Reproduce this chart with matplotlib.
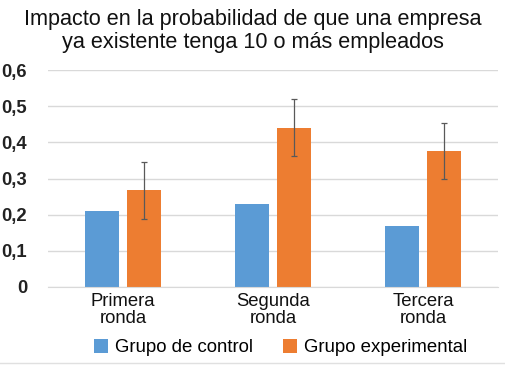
import numpy as np
import matplotlib
matplotlib.use("Agg")
import matplotlib.pyplot as plt

plt.rcParams['font.family'] = ['Liberation Sans', 'DejaVu Sans']

rondas = ['Primera\nronda', 'Segunda\nronda', 'Tercera\nronda']
control = [0.211, 0.230, 0.169]
experimental = [0.267, 0.441, 0.376]
exp_err = [0.078, 0.078, 0.078]
yticks = [0, 0.1, 0.2, 0.3, 0.4, 0.5, 0.6]
ylabels = ['0', '0,1', '0,2', '0,3', '0,4', '0,5', '0,6']

fig = plt.figure(figsize=(5.05, 3.65), dpi=100)
ax = fig.add_axes([0.095, 0.2137, 0.891, 0.5945])

ind = np.arange(len(rondas))
width = 0.223
off = 0.14
ax.bar(ind - off, control, width, color='#5B9BD5', label='Grupo de control', zorder=2)
ax.bar(ind + off, experimental, width, color='#ED7D31', label='Grupo experimental', zorder=2)
ax.errorbar(ind + off, experimental, yerr=exp_err, fmt='none', ecolor='#595959',
            elinewidth=0.9, capsize=2, capthick=0.9, zorder=3, clip_on=False)

ax.set_xlim(-0.5, 2.5)
ax.set_ylim(0, 0.6)
ax.set_yticks(yticks)
ax.set_yticklabels(ylabels, fontsize=13.3, fontweight='bold', color='#222222')
ax.set_xticks(ind)
ax.set_xticklabels(rondas, fontsize=13.3, color='#111111', linespacing=1.0)
ax.tick_params(length=0)
ax.tick_params(axis='x', pad=4)
ax.tick_params(axis='y', pad=15)
ax.grid(axis='y', color='#D9D9D9', linewidth=1, zorder=0)
ax.set_axisbelow(True)
for s in ['top', 'right', 'left']:
    ax.spines[s].set_visible(False)
ax.spines['bottom'].set_color('#D9D9D9')

fig.text(0.5, 0.975, 'Impacto en la probabilidad de que una empresa\nya existente tenga 10 o más empleados',
         ha='center', va='top', fontsize=15.6, color='#111111', linespacing=1.12)

fig.legend(loc='center', bbox_to_anchor=(0.556, 0.047), ncol=2, frameon=False,
           fontsize=13.4, handlelength=0.75, handleheight=0.75, handletextpad=0.4,
           columnspacing=1.6)

fig.add_artist(plt.Line2D([0, 1], [0.006, 0.006], color='#E0E0E0', linewidth=1))

fig.savefig('out.png', dpi=100)
